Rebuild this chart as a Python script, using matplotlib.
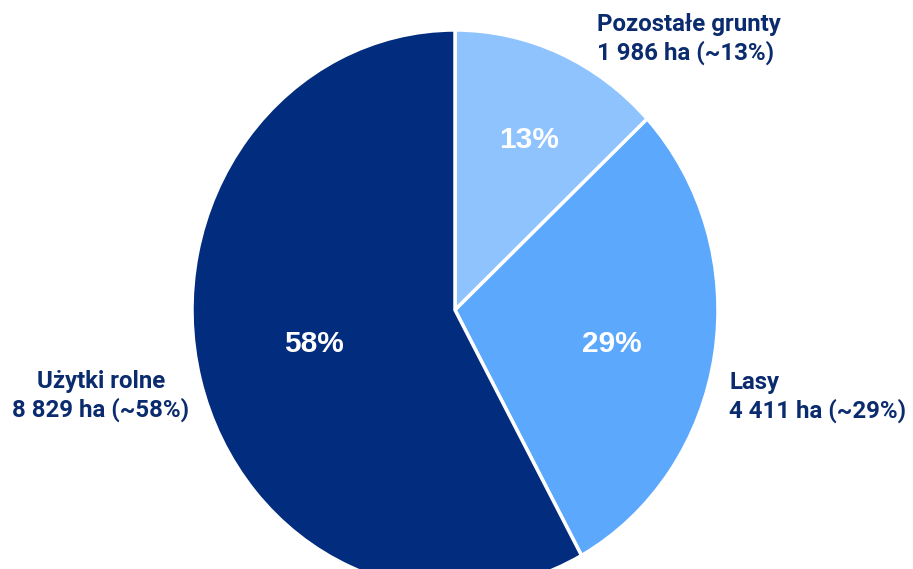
import numpy as np
import matplotlib
matplotlib.use("Agg")
import matplotlib.pyplot as plt

categories = ["Pozostałe grunty", "Lasy", "Użytki rolne"]
values_ha = [1986, 4411, 8829]
pct_labels = ["13%", "29%", "58%"]
outer_labels = ["Pozostałe grunty\n1 986 ha (~13%)",
                "Lasy\n4 411 ha (~29%)",
                "Użytki rolne\n8 829 ha (~58%)"]
colors = ["#8FC3FE", "#5CA8FC", "#022C7E"]
text_color = "#0B2B6F"

W, H = 913, 569
fig = plt.figure(figsize=(W / 100, H / 100), dpi=100)
ax = fig.add_axes([0, 0, 1, 1])

wedges, _ = ax.pie(values_ha, colors=colors, startangle=90, counterclock=False,
                   radius=1.0, center=(0, 0),
                   wedgeprops=dict(edgecolor="white", linewidth=2.5))
ax.set_aspect("auto")
cx, cy, rx, ry = 455, 310, 263, 280
ax.set_xlim(-cx / rx, (W - cx) / rx)
ax.set_ylim(-(H - cy) / ry, cy / ry)
ax.axis("off")

pct_r = [0.67, 0.61, 0.55]
pct_dth = [-1.5, -2.5, -1.5]
for w, lab, r, d in zip(wedges, pct_labels, pct_r, pct_dth):
    th = np.deg2rad((w.theta1 + w.theta2) / 2 + d)
    ax.text(r * np.cos(th), r * np.sin(th), lab, ha="center", va="center",
            color="white", fontsize=21.5, fontweight="bold",
            family="Liberation Sans")

# outer labels (pixel positions from top-left)
label_pos = [(597, 39, "left"), (729, 397, "left"), (101, 396, "center")]
for txt, (px, py, ha) in zip(outer_labels, label_pos):
    fig.text(px / W, 1 - py / H, txt, ha=ha, va="center",
             multialignment="center" if ha == "center" else "left",
             color=text_color, fontsize=17.3, fontweight="bold",
             family="Roboto", linespacing=1.28)

fig.savefig("out.png", dpi=100)
